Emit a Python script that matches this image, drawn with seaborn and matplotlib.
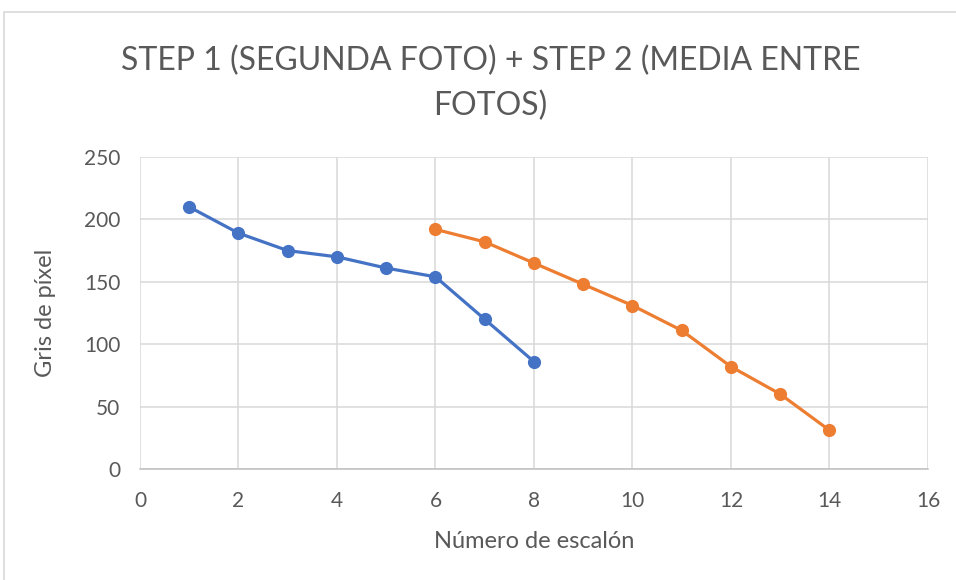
import pandas as pd
import matplotlib
matplotlib.use("Agg")
import matplotlib.pyplot as plt
import seaborn as sns
from matplotlib.patches import Rectangle

# -----------------------------------
# Data
# -----------------------------------

step1_x = [1, 2, 3, 4, 5, 6, 7, 8]
step1_y = [210, 189, 175, 170, 161, 154, 120, 86]

step2_x = [6, 7, 8, 9, 10, 11, 12, 13, 14]
step2_y = [192, 182, 165, 148, 131, 111, 82, 60, 31]

x_ticks = [0, 2, 4, 6, 8, 10, 12, 14, 16]
y_ticks = [0, 50, 100, 150, 200, 250]

title = "STEP 1 (SEGUNDA FOTO) + STEP 2 (MEDIA ENTRE\nFOTOS)"

df = pd.concat(
    [
        pd.DataFrame({"x": step1_x, "y": step1_y, "serie": "Step 1"}),
        pd.DataFrame({"x": step2_x, "y": step2_y, "serie": "Step 2"}),
    ],
    ignore_index=True,
)

sns.set_style("white")
plt.rcParams["font.family"] = ["Lato", "DejaVu Sans"]

text_color = "#595959"
grid_color = "#D9D9D9"

fig = plt.figure(figsize=(9.56, 5.8), dpi=100)
ax = fig.add_axes([0.1464, 0.1914, 0.8243, 0.5379])

sns.lineplot(
    data=df,
    x="x",
    y="y",
    hue="serie",
    palette=["#4472C4", "#ED7D31"],
    marker="o",
    markersize=9.5,
    markeredgewidth=0,
    linewidth=2.3,
    legend=False,
    ax=ax,
)

ax.set_xlim(0, 16)
ax.set_ylim(0, 250)
ax.set_xticks(x_ticks)
ax.set_yticks(y_ticks)

ax.grid(True, color=grid_color, linewidth=1.1)
ax.set_axisbelow(True)

for side in ["top", "right", "left"]:
    ax.spines[side].set_visible(False)
ax.spines["bottom"].set_color("#BFBFBF")
ax.spines["bottom"].set_linewidth(1.1)

ax.tick_params(axis="both", length=0, labelsize=15, colors=text_color)
ax.tick_params(axis="x", pad=16)
ax.tick_params(axis="y", pad=14)

ax.set_xlabel("Número de escalón", fontsize=17, color=text_color, labelpad=14)
ax.set_ylabel("Gris de píxel", fontsize=17, color=text_color, labelpad=20)

fig.text(
    0.513, 0.922, title,
    ha="center", va="top",
    fontsize=23, color=text_color,
    linespacing=1.62,
)

# light frame of the chart area
fig.patches.append(
    Rectangle(
        (4 / 956, -0.1), 1.2, 1.1 - 12 / 580,
        transform=fig.transFigure,
        fill=False, edgecolor="#D9D9D9", linewidth=1.2,
    )
)

fig.savefig("out.png", dpi=100)
